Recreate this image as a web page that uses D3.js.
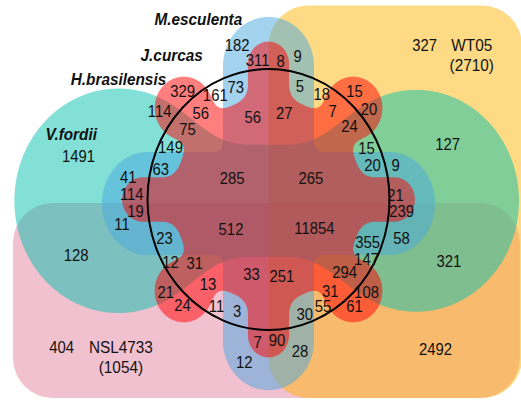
<!DOCTYPE html>
<html>
<head>
<meta charset="utf-8">
<script src="https://cdn.jsdelivr.net/npm/d3@7"></script>
<style>
  html, body { margin: 0; padding: 0; background: #fff; }
  svg { display: block; }
  text { font-family: "Liberation Sans", Arial, Helvetica, sans-serif; fill: #111; }
</style>
</head>
<body>
<svg id="chart" width="521" height="400"></svg>
<script>
// ---- data ---------------------------------------------------------------
const setCodes  = ["M", "J", "H", "V", "W", "N"];
const setNames  = ["M.esculenta", "J.curcas", "H.brasilensis", "V.fordii", "WT05", "NSL4733"];
const setTotals = [null, null, null, null, 2710, 1054];

// membership of every region (letters from setCodes) and its count
const regionKeys = [
  "M","MJ","MJW","MW","H","MH","MHW","HW","JW","J","JV","JH","MJH","MJHW","JHW","JVW",
  "JVH","JVHW","VH","VHW","VW","MVH","MVHW","MVW","V","MV","MJVH","MJVHW","MJV","MJVW",
  "MJVN","MJVWN","MVN","MJVHN","MJVHWN","MVHN","MVHWN","MVWN","VN","VHN","JVHN","VHWN",
  "VWN","MJHN","MJHWN","JVHWN","JHN","JVN","JHWN","JVWN","JN","HN","MHN","MHWN","HWN",
  "JWN","MJN","MJWN","MWN","MN","WN","N","W"
];
const regionCounts = [
  182,311,8,9,161,73,5,18,15,329,114,56,56,27,7,20,
  75,24,149,15,127,63,20,9,1491,41,285,265,114,21,
  19,239,11,512,11854,23,355,58,128,12,31,147,
  321,33,251,294,13,21,31,108,24,11,3,30,55,
  61,7,90,28,12,2492,404,327
];

// ---- layout (diagram units: the H circle is the unit circle) ------------
const labelAnchor = {
  M:[-0.26,-1.18], MJ:[-0.09,-1.07], MJW:[0.10,-1.06], MW:[0.24,-1.10],
  H:[-0.44,-0.80], MH:[-0.27,-0.86], MHW:[0.26,-0.87], HW:[0.44,-0.81],
  JW:[0.71,-0.83], J:[-0.71,-0.83], JV:[-0.90,-0.68], JH:[-0.56,-0.66],
  MJH:[-0.13,-0.63], MJHW:[0.13,-0.66], JHW:[0.53,-0.68], JVW:[0.83,-0.69],
  JVH:[-0.67,-0.54], JVHW:[0.67,-0.56], VH:[-0.81,-0.40], VHW:[0.81,-0.39],
  VW:[1.48,-0.42], MVH:[-0.89,-0.23], MVHW:[0.86,-0.26], MVW:[1.05,-0.26],
  V:[-1.57,-0.33], MV:[-1.16,-0.17], MJVH:[-0.30,-0.16], MJVHW:[0.35,-0.16],
  MJV:[-1.13,-0.04], MJVW:[1.05,-0.03], MJVN:[-1.10,0.09], MJVWN:[1.10,0.09],
  MVN:[-1.21,0.19], MJVHN:[-0.31,0.23], MJVHWN:[0.38,0.22], MVHN:[-0.86,0.30],
  MVHWN:[0.82,0.33], MVWN:[1.10,0.30], VN:[-1.59,0.43], VHN:[-0.81,0.48],
  JVHN:[-0.61,0.49], VHWN:[0.81,0.46], VWN:[1.49,0.47], MJHN:[-0.14,0.57],
  MJHWN:[0.11,0.59], JVHWN:[0.63,0.56], JHN:[-0.50,0.65], JVN:[-0.85,0.71],
  JHWN:[0.51,0.70], JVWN:[0.81,0.71], JN:[-0.71,0.81], HN:[-0.43,0.82],
  MHN:[-0.26,0.86], MHWN:[0.30,0.88], HWN:[0.45,0.82], JWN:[0.71,0.82],
  MJN:[-0.09,1.09], MJWN:[0.07,1.08], MWN:[0.26,1.16], MN:[-0.20,1.25],
  WN:[1.38,1.15], N:[-1.71,1.13], W:[1.29,-1.18]
};
const nameAnchor = {
  M:[-0.58,-1.38], J:[-0.80,-1.11], H:[-1.24,-0.92], V:[-1.63,-0.50],
  W:[1.68,-1.18], N:[-1.22,1.13]
};

const fills = { N:"#e583a1", W:"#fdb50b", V:"#05c1ad", M:"#47a7df", J:"#ff0000" };

// diagram units -> pixels
const xs = d3.scaleLinear().domain([-1, 1]).range([268.5 - 121, 268.5 + 121]);
const ys = d3.scaleLinear().domain([-1, 1]).range([199.5 - 130.5, 199.5 + 130.5]);

const svg = d3.select("#chart");

// ---- signed distance helpers for the cog-like set outlines -------------
const hyp = Math.hypot;
const sdCircle = (p, c, r) => hyp(p[0] - c[0], p[1] - c[1]) - r;
function sdSegment(p, a, b, r) {
  const pax = p[0] - a[0], pay = p[1] - a[1], bax = b[0] - a[0], bay = b[1] - a[1];
  const h = Math.max(0, Math.min(1, (pax * bax + pay * bay) / (bax * bax + bay * bay)));
  return hyp(pax - bax * h, pay - bay * h) - r;
}
function sdBox(p, c, hx, hy) {
  const dx = Math.abs(p[0] - c[0]) - hx, dy = Math.abs(p[1] - c[1]) - hy;
  return hyp(Math.max(dx, 0), Math.max(dy, 0)) + Math.min(Math.max(dx, dy), 0);
}
function smin(a, b, k) {
  const h = Math.max(k - Math.abs(a - b), 0) / k;
  return Math.min(a, b) - h * h * k * 0.25;
}

// V.fordii: two side lobes joined by a waist band
function sdV(p) {
  const l = sdCircle(p, [-1.24, 0.01], 0.86);
  const r = sdCircle(p, [1.22, 0.01], 0.85);
  const b = sdBox(p, [0, 0.01], 1.2, 0.43);
  return smin(smin(l, r, 0.3), b, 0.3);
}
// M.esculenta: a cross with four rounded arms
function sdM(p) {
  const c = 0.031;
  const vArm = sdSegment(p, [0, c - 1.43 + 0.376], [0, c + 1.43 - 0.376], 0.376);
  const q = [p[0], (p[1] - c) * 0.376 / 0.395 + c];
  const hArm = sdSegment(q, [-1.376 + 0.376, c], [1.376 - 0.376, c], 0.376);
  return smin(vArm, hArm, 0.08);
}
// J.curcas: a core with narrow fingers on the axes and round bulbs on the diagonals
function sdJ(p) {
  let d = sdCircle(p, [0, 0], 0.78);
  for (let k = 0; k < 8; k++) {
    const a = k * Math.PI / 4;
    const ca = Math.cos(a), sa = Math.sin(a);
    if (k % 2 === 0) {
      d = smin(d, sdSegment(p, [0, 0], [1.04 * ca, 1.04 * sa], 0.17), 0.12);
    } else {
      const bulb = sdCircle(p, [0.99 * ca, 0.99 * sa], 0.24);
      const neck = sdSegment(p, [0, 0], [0.99 * ca, 0.99 * sa], 0.16);
      d = smin(d, smin(bulb, neck, 0.1), 0.12);
    }
  }
  return d;
}

// ---- trace outlines with d3.contours -----------------------------------
const U0 = -2.4, U1 = 2.4, V0 = -1.7, V1 = 1.7, step = 0.008;
const nu = Math.ceil((U1 - U0) / step), nv = Math.ceil((V1 - V0) / step);
function outline(sdf) {
  const vals = new Float64Array(nu * nv);
  for (let j = 0; j < nv; j++) {
    const v = V0 + (j + 0.5) * step;
    for (let i = 0; i < nu; i++) {
      vals[j * nu + i] = -sdf([U0 + (i + 0.5) * step, v]);
    }
  }
  return d3.contours().size([nu, nv]).thresholds([0])(vals)[0];
}
const gridToPx = d3.geoTransform({
  point(x, y) { this.stream.point(xs(U0 + x * step), ys(V0 + y * step)); }
});
const geo = d3.geoPath(gridToPx);

// ---- half-plane sets as rounded rectangles -----------------------------
const rects = [
  { code: "N", u: [-2.112, 2.078], v: [0.027, 1.521] },
  { code: "W", u: [0.0, 2.095], v: [-1.487, 1.521] }
];
svg.append("g").selectAll("rect").data(rects).join("rect")
  .attr("x", d => xs(d.u[0]))
  .attr("y", d => ys(d.v[0]))
  .attr("width", d => xs(d.u[1]) - xs(d.u[0]))
  .attr("height", d => ys(d.v[1]) - ys(d.v[0]))
  .attr("rx", 40).attr("ry", 40)
  .attr("fill", d => fills[d.code])
  .attr("fill-opacity", 0.5);

const blobs = [
  { code: "V", sdf: sdV },
  { code: "M", sdf: sdM },
  { code: "J", sdf: sdJ }
];
svg.append("g").selectAll("path").data(blobs).join("path")
  .attr("d", d => geo(outline(d.sdf)))
  .attr("fill", d => fills[d.code])
  .attr("fill-opacity", 0.5);

// H.brasilensis: outline only
svg.append("ellipse")
  .attr("cx", xs(0)).attr("cy", ys(0))
  .attr("rx", xs(1) - xs(0)).attr("ry", ys(1) - ys(0))
  .attr("fill", "none").attr("stroke", "#000").attr("stroke-width", 2);

// ---- text ----------------------------------------------------------------
const squeeze = 0.93;
const regions = regionKeys.map((k, i) => ({ key: k, count: regionCounts[i] }));
svg.append("g").selectAll("text").data(regions).join("text")
  .attr("transform", d => `translate(${xs(labelAnchor[d.key][0])},${ys(labelAnchor[d.key][1])}) scale(${squeeze},1)`)
  .attr("text-anchor", "middle").attr("dy", "0.36em")
  .attr("font-size", 16)
  .text(d => d.count);

const names = setCodes.map((c, i) => ({ code: c, name: setNames[i], total: setTotals[i] }));
const nameG = svg.append("g").selectAll("text").data(names).join("text")
  .attr("transform", d => `translate(${xs(nameAnchor[d.code][0])},${ys(nameAnchor[d.code][1])}) scale(${squeeze},1)`)
  .attr("text-anchor", "middle").attr("dy", "0.36em")
  .attr("font-size", 16.5)
  .attr("font-weight", d => d.total == null ? "bold" : "normal")
  .attr("font-style", d => d.total == null ? "italic" : "normal");
nameG.append("tspan").text(d => d.name);
nameG.filter(d => d.total != null).append("tspan")
  .attr("x", 0).attr("dy", "1.2em")
  .text(d => `(${d.total})`);
</script>
</body>
</html>
